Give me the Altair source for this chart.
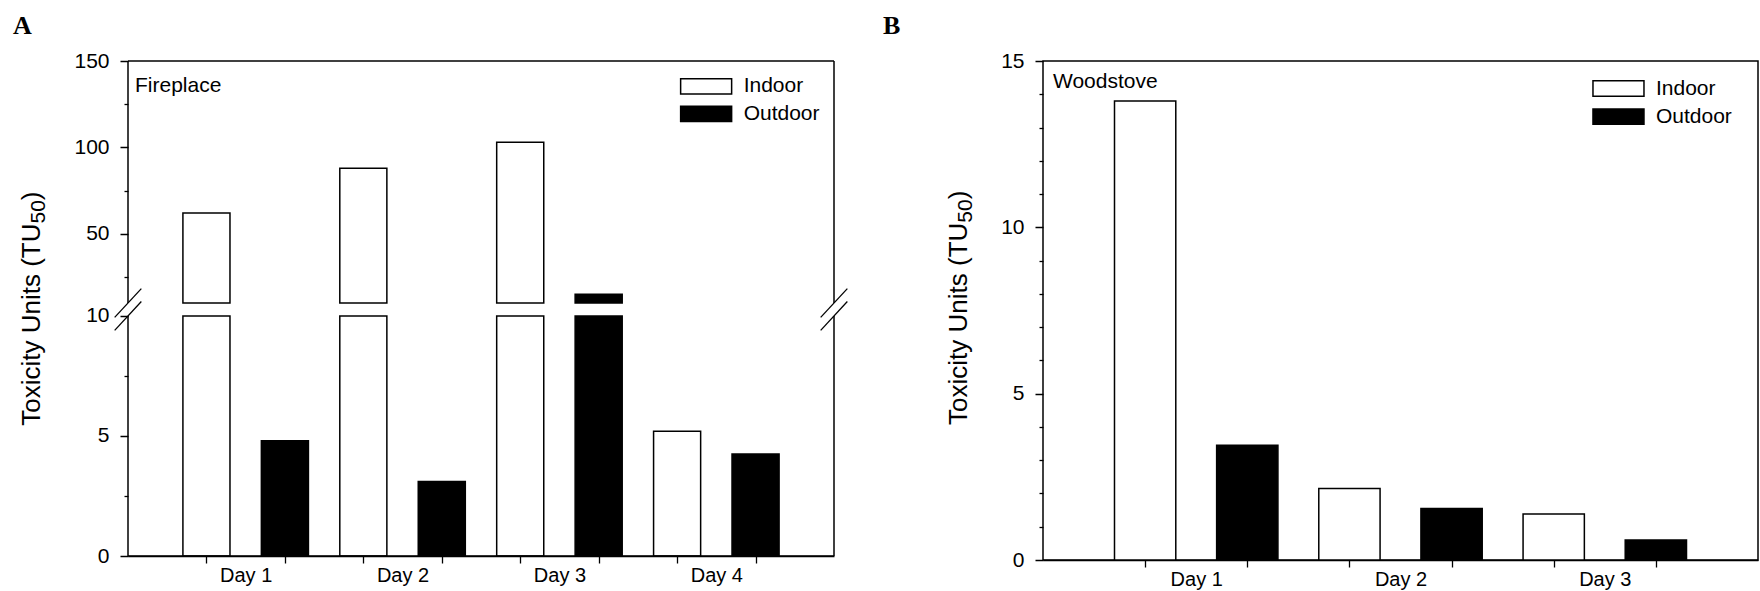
import altair as alt
import pandas as pd

# ---------------- data ----------------
fireplace_days = ["Day 1", "Day 2", "Day 3", "Day 4"]
fireplace_indoor = [62, 88, 103, 5.2]
fireplace_outdoor = [4.8, 3.1, 15, 4.25]

woodstove_days = ["Day 1", "Day 2", "Day 3"]
woodstove_indoor = [13.8, 2.15, 1.38]
woodstove_outdoor = [3.45, 1.55, 0.6]

series_names = ["Indoor", "Outdoor"]
series_fill = ["white", "black"]

fireplace_major_ticks = [0, 5, 10, 50, 100, 150]
fireplace_minor_ticks = [2.5, 7.5, 25, 75, 125]
woodstove_ticks = list(range(0, 16))

TITLE_MAIN = "Toxicity Units (TU"
TITLE_SUB = "50"
TITLE_END = ")"
FONT = "Liberation Sans"
TITLE_SIZE = 26
SUB_SIZE = 21

# ---------------- broken y axis (fireplace panel) ----------------
BREAK = 10          # values above this are drawn on a compressed upper segment
GAP = 0.54          # empty band between the two segments
UPPER_SCALE = 0.072 # compression of the upper segment
FP_MAX = 150


def broken(v):
    return v if v <= BREAK else BREAK + GAP + (v - BREAK) * UPPER_SCALE


FP_TOP = broken(FP_MAX)
UPPER_BASE = BREAK + GAP


def bar_table(days, indoor, outdoor):
    rows = []
    for i, day in enumerate(days):
        for j, (name, vals) in enumerate(zip(series_names, (indoor, outdoor))):
            rows.append({"day": day, "series": name, "value": vals[i],
                         "pos": 2 * i + j + 1})
    return pd.DataFrame(rows)


fp = bar_table(fireplace_days, fireplace_indoor, fireplace_outdoor)
ws = bar_table(woodstove_days, woodstove_indoor, woodstove_outdoor)

HALF = 0.3            # half bar width in slot units
MINOR_DASH = [4, 40]  # minor ticks: only the first 4 px of the tick are drawn
fill_scale = alt.Scale(domain=series_names, range=series_fill)


def day_axis(n_days):
    vals = []
    for d in range(n_days):
        vals += [2 * d + 1, 2 * d + 1.5, 2 * d + 2]
    return alt.Axis(
        values=vals,
        labelExpr="datum.value % 1 ? 'Day ' + (datum.value + 0.5) / 2 : ''",
        tickOpacity={"condition": {"test": "datum.value % 1 != 0", "value": 0}, "value": 1},
        tickSize=7, labelPadding=2, labelFontSize=20, title=None, grid=False,
    )


class Panel:
    """Holds the scales and axes shared by every layer of one panel."""

    def __init__(self, xs, ys, xa, ya):
        self.xs, self.ys, self.xa, self.ya = xs, ys, xa, ya

    def x(self, field):
        return alt.X(field, scale=self.xs, axis=self.xa)

    def y(self, field):
        return alt.Y(field, scale=self.ys, axis=self.ya)

    def rules(self, df, width):
        return alt.Chart(df).mark_rule(color="black", strokeWidth=width).encode(
            x=self.x("x:Q"), y=self.y("y:Q"), x2="x2:Q", y2="y2:Q")

    def text(self, df, **kw):
        return alt.Chart(df).mark_text(font=FONT, color="black", **kw).encode(
            x=self.x("x:Q"), y=self.y("y:Q"), text="t:N")

    def legend(self, xc, y_rows):
        df = pd.DataFrame({"x": [xc] * len(series_names), "y": y_rows,
                           "series": series_names, "t": series_names})
        boxes = alt.Chart(df).mark_point(
            shape="M-1,-0.3H1V0.3H-1Z", size=2601, filled=True, opacity=1,
            stroke="black", strokeWidth=1.5,
        ).encode(x=self.x("x:Q"), y=self.y("y:Q"),
                 fill=alt.Fill("series:N", scale=fill_scale, legend=None))
        labels = self.text(df, align="left", baseline="middle", dx=37.5, fontSize=21)
        return [boxes, labels]

    def y_title(self, y_anchor, shift):
        # rotated title "Toxicity Units (TU50)" with a lowered subscript
        df = pd.DataFrame({"x": [0], "y": [y_anchor], "t": [TITLE_MAIN]})
        main = self.text(df, angle=270, align="right", baseline="alphabetic",
                         dy=shift, fontSize=TITLE_SIZE)
        sub = self.text(df.assign(t=TITLE_SUB), angle=270, align="left",
                        baseline="alphabetic", dy=shift + 5, fontSize=SUB_SIZE)
        end = self.text(df.assign(t=TITLE_END), angle=270, align="left",
                        baseline="alphabetic", dy=shift, dx=2 * 0.556 * SUB_SIZE,
                        fontSize=TITLE_SIZE)
        return [main, sub, end]


# ---------------- panel A: fireplace ----------------
fp_ticks = sorted(fireplace_major_ticks + fireplace_minor_ticks)
fp_tick_pos = [broken(v) for v in fp_ticks]
fp_label_expr = "".join(
    f"abs(datum.value - {broken(v)}) < 0.001 ? '{v}' : " for v in fireplace_major_ticks
) + "''"
fp_minor_test = " || ".join(
    f"abs(datum.value - {broken(v)}) < 0.001" for v in fireplace_minor_ticks
)

pa = Panel(
    alt.Scale(domain=[0, 9], nice=False, zero=False),
    alt.Scale(domain=[0, FP_TOP], nice=False, zero=False),
    day_axis(len(fireplace_days)),
    alt.Axis(
        values=fp_tick_pos, labelExpr=fp_label_expr, tickSize=8,
        tickDash={"condition": {"test": fp_minor_test, "value": MINOR_DASH}, "value": [1, 0]},
        labelPadding=11, domain=False, grid=False, title=None,
    ),
)

lower_a = alt.Chart(fp).transform_calculate(
    x0=f"datum.pos - {HALF}", x1=f"datum.pos + {HALF}",
    bottom="0", top=f"min(datum.value, {BREAK})",
).mark_rect(stroke="black", strokeWidth=1.5).encode(
    x=pa.x("x0:Q"), x2="x1:Q", y=pa.y("top:Q"), y2="bottom:Q",
    fill=alt.Fill("series:N", scale=fill_scale, legend=None),
)

upper_a = alt.Chart(fp).transform_filter(f"datum.value > {BREAK}").transform_calculate(
    x0=f"datum.pos - {HALF}", x1=f"datum.pos + {HALF}",
    bottom=f"{UPPER_BASE}",
    top=f"{UPPER_BASE} + (datum.value - {BREAK}) * {UPPER_SCALE}",
).mark_rect(stroke="black", strokeWidth=1.5).encode(
    x=pa.x("x0:Q"), x2="x1:Q", y=pa.y("top:Q"), y2="bottom:Q",
    fill=alt.Fill("series:N", scale=fill_scale, legend=None),
)

# frame of the broken panel: open between the two segments
frame_segments = pd.DataFrame([
    {"x": 0, "y": 0, "x2": 0, "y2": BREAK},
    {"x": 0, "y": UPPER_BASE, "x2": 0, "y2": FP_TOP},
    {"x": 0, "y": FP_TOP, "x2": 9, "y2": FP_TOP},
    {"x": 9, "y": FP_TOP, "x2": 9, "y2": UPPER_BASE},
    {"x": 9, "y": BREAK, "x2": 9, "y2": 0},
    {"x": 0, "y": 0, "x2": 9, "y2": 0},
])

# double-slash break marks on both side walls
slash_rows = []
for xc in (0, 9):
    for yc in (BREAK, UPPER_BASE):
        slash_rows.append({"x": xc - 0.17, "y": yc - 0.6, "x2": xc + 0.17, "y2": yc + 0.6})
slashes = pd.DataFrame(slash_rows)

name_a = pa.text(pd.DataFrame({"x": [0], "y": [FP_TOP], "t": ["Fireplace"]}),
                 align="left", baseline="alphabetic", dx=7, dy=31, fontSize=21)

panel_a = alt.layer(
    lower_a, upper_a, pa.rules(frame_segments, 1.5), pa.rules(slashes, 1.3), name_a,
    *pa.legend(7.37, [FP_TOP - 1.054, FP_TOP - 2.2]),
    *pa.y_title(13.85, -88),
).properties(
    width=706, height=495,
    title=alt.TitleParams(
        "A", anchor="start", frame="group", dx=-115, offset=-10,
        baseline="alphabetic", font="Liberation Serif", fontSize=26,
        fontWeight="bold", color="black",
    ),
)

# ---------------- panel B: woodstove ----------------
pb = Panel(
    alt.Scale(domain=[0, 7], nice=False, zero=False),
    alt.Scale(domain=[0, 15], nice=False, zero=False),
    day_axis(len(woodstove_days)),
    alt.Axis(
        values=woodstove_ticks,
        labelExpr="datum.value % 5 == 0 ? datum.value : ''", tickSize=8,
        tickDash={"condition": {"test": "datum.value % 5 != 0", "value": MINOR_DASH}, "value": [1, 0]},
        labelPadding=11, domain=False, grid=False, title=None,
    ),
)

bars_b = alt.Chart(ws).transform_calculate(
    x0=f"datum.pos - {HALF}", x1=f"datum.pos + {HALF}", bottom="0",
).mark_rect(stroke="black", strokeWidth=1.5).encode(
    x=pb.x("x0:Q"), x2="x1:Q", y=pb.y("value:Q"), y2="bottom:Q",
    fill=alt.Fill("series:N", scale=fill_scale, legend=None),
)

name_b = pb.text(pd.DataFrame({"x": [0], "y": [15], "t": ["Woodstove"]}),
                 align="left", baseline="alphabetic", dx=10, dy=27, fontSize=21)

panel_b = alt.layer(
    bars_b, name_b,
    *pb.legend(5.634, [15 - 0.827, 15 - 1.674]),
    *pb.y_title(10.14, -76),
).properties(
    width=715, height=499,
    view=alt.ViewBackground(stroke="black", strokeWidth=1.5),
    title=alt.TitleParams(
        "B", anchor="start", frame="group", dx=-160, offset=-10,
        baseline="alphabetic", font="Liberation Serif", fontSize=26,
        fontWeight="bold", color="black",
    ),
)

chart = alt.hconcat(panel_a, panel_b, spacing=209, bounds="flush").properties(
    padding={"left": 13, "top": 12, "right": 0, "bottom": 0},
    background="white",
).configure_view(stroke=None).configure_axis(
    labelFont=FONT, labelFontSize=21, labelColor="black",
    tickColor="black", tickWidth=1.3,
    domainColor="black", domainWidth=1.5,
)

chart.save("out.html", embed_options={"renderer": "svg", "actions": False})
